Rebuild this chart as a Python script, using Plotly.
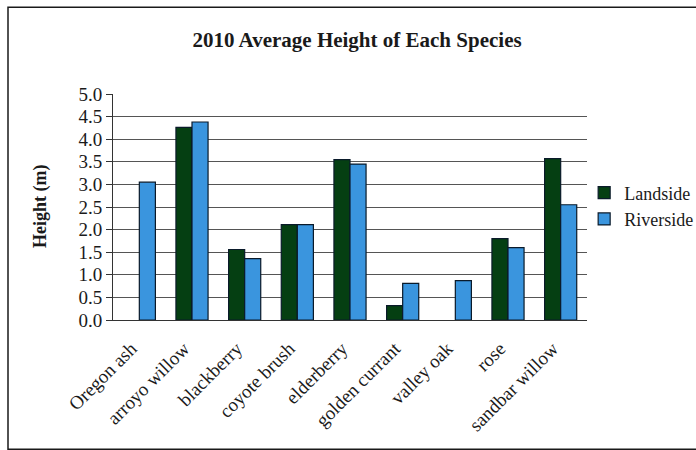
import plotly.graph_objects as go

species = ["Oregon ash", "arroyo willow", "blackberry", "coyote brush", "elderberry",
           "golden currant", "valley oak", "rose", "sandbar willow"]
landside = [None, 4.26, 1.56, 2.11, 3.55, 0.32, None, 1.80, 3.57]
riverside = [3.05, 4.38, 1.36, 2.11, 3.45, 0.81, 0.87, 1.60, 2.55]
y_ticks = [0.0, 0.5, 1.0, 1.5, 2.0, 2.5, 3.0, 3.5, 4.0, 4.5, 5.0]

serif = "Liberation Serif, Times New Roman, serif"
ink = "#1a1a1a"

fig = go.Figure()
fig.add_trace(go.Bar(
    name="Landside", x=species, y=landside,
    marker=dict(color="#053f12", line=dict(color="#0a1a2a", width=1.2)),
))
fig.add_trace(go.Bar(
    name="Riverside", x=species, y=riverside,
    marker=dict(color="#3a95de", line=dict(color="#0a1a2a", width=1.2)),
))

fig.update_layout(
    width=696, height=450,
    margin=dict(l=113, r=109, t=94, b=130, autoexpand=False),
    paper_bgcolor="white", plot_bgcolor="white",
    barmode="group", bargap=0.39, bargroupgap=0,
    font=dict(family=serif, color=ink, size=18),
    title=dict(text="<b>2010 Average Height of Each Species</b>",
               x=0.513, xanchor="center", y=1 - 40 / 450, yanchor="middle",
               font=dict(family=serif, size=21, color=ink)),
    legend=dict(x=0.994, xanchor="left", y=0.505, yanchor="middle",
                font=dict(family=serif, size=18, color=ink),
                itemwidth=30, tracegroupgap=2, bgcolor="rgba(0,0,0,0)"),
    showlegend=True,
)

fig.update_xaxes(
    tickangle=-45, tickfont=dict(family=serif, size=19, color=ink),
    ticklabelshift=-8, ticklabelstandoff=9,
    showline=True, linecolor="#333333", linewidth=1,
    showgrid=False, ticks="", fixedrange=True, automargin=False,
)
fig.update_yaxes(
    range=[0, 5], tickvals=y_ticks, tickformat=".1f",
    tickfont=dict(family=serif, size=19, color=ink),
    showline=True, linecolor="#333333", linewidth=1,
    ticks="outside", ticklen=6, tickcolor="#333333",
    showgrid=True, gridcolor="#555555", gridwidth=1,
    zeroline=False, fixedrange=True, automargin=False,
)

# y-axis title
fig.add_annotation(
    text="<b>Height (m)</b>", textangle=-90,
    xref="paper", yref="paper", x=(40 - 113) / 474, y=0.5,
    xanchor="center", yanchor="middle", showarrow=False,
    font=dict(family=serif, size=18, color=ink),
)

# chart frame
fig.add_shape(
    type="rect", xref="paper", yref="paper",
    x0=(8 - 113) / 474, x1=(705 - 113) / 474,
    y0=(320 - 449) / 225.5, y1=(320 - 8) / 225.5,
    line=dict(color=ink, width=1.5), fillcolor="rgba(0,0,0,0)",
)

fig.write_html("out.html")
